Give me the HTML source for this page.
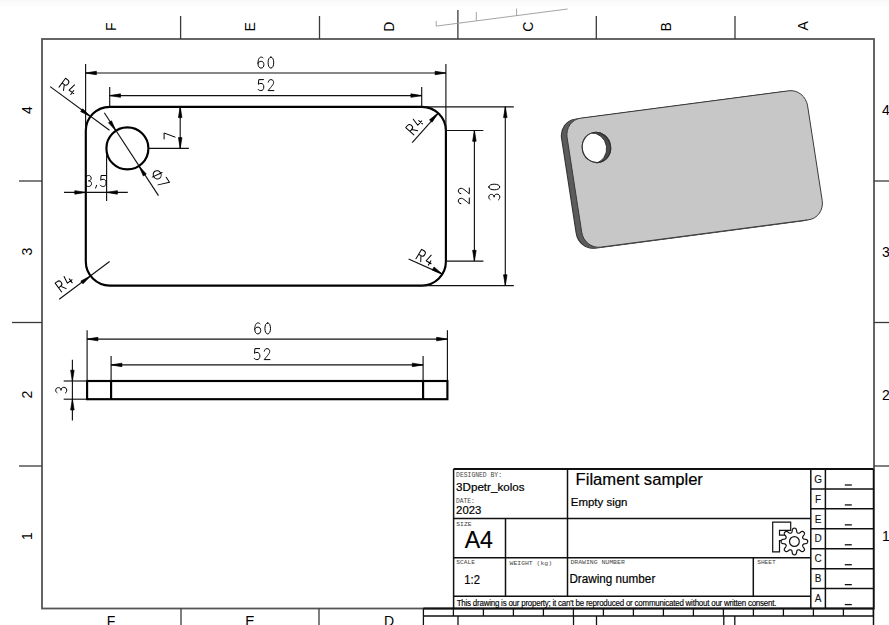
<!DOCTYPE html>
<html><head><meta charset="utf-8"><style>
html,body{margin:0;padding:0;background:#fff;}
svg{display:block;}
</style></head><body>
<svg width="889" height="625" viewBox="0 0 889 625">
<rect x="0" y="0" width="889" height="625" fill="#fff"/>
<rect x="0" y="0" width="889" height="2" fill="#f9f9f9"/><rect x="0" y="2" width="889" height="4" fill="#fcfcfc"/>
<rect x="42" y="39" width="832" height="569.5" fill="none" stroke="#555" stroke-width="1.8"/>
<line x1="180.60" y1="16.00" x2="180.60" y2="39.00" stroke="#3a3a3a" stroke-width="1.3"/>
<line x1="319.50" y1="16.00" x2="319.50" y2="39.00" stroke="#3a3a3a" stroke-width="1.3"/>
<line x1="596.30" y1="16.00" x2="596.30" y2="39.00" stroke="#3a3a3a" stroke-width="1.3"/>
<line x1="735.00" y1="16.00" x2="735.00" y2="39.00" stroke="#3a3a3a" stroke-width="1.3"/>
<line x1="457.90" y1="10.00" x2="457.90" y2="39.00" stroke="#3a3a3a" stroke-width="1.3"/>
<line x1="19.00" y1="181.00" x2="42.00" y2="181.00" stroke="#3a3a3a" stroke-width="1.3"/>
<line x1="874.00" y1="181.00" x2="889.00" y2="181.00" stroke="#3a3a3a" stroke-width="1.3"/>
<line x1="19.00" y1="466.00" x2="42.00" y2="466.00" stroke="#3a3a3a" stroke-width="1.3"/>
<line x1="874.00" y1="466.00" x2="889.00" y2="466.00" stroke="#3a3a3a" stroke-width="1.3"/>
<line x1="12.00" y1="322.50" x2="42.00" y2="322.50" stroke="#3a3a3a" stroke-width="1.3"/>
<line x1="874.00" y1="322.50" x2="889.00" y2="322.50" stroke="#3a3a3a" stroke-width="1.3"/>
<line x1="181.00" y1="608.50" x2="181.00" y2="625.00" stroke="#3a3a3a" stroke-width="1.3"/>
<line x1="319.00" y1="608.50" x2="319.00" y2="625.00" stroke="#3a3a3a" stroke-width="1.3"/>
<text transform="translate(111.00,26.80) rotate(-90)" x="0" y="5.0" text-anchor="middle" font-family="Liberation Sans" font-size="14" fill="#000">F</text>
<text transform="translate(250.00,26.80) rotate(-90)" x="0" y="5.0" text-anchor="middle" font-family="Liberation Sans" font-size="14" fill="#000">E</text>
<text transform="translate(389.00,26.80) rotate(-90)" x="0" y="5.0" text-anchor="middle" font-family="Liberation Sans" font-size="14" fill="#000">D</text>
<text transform="translate(528.00,26.80) rotate(-90)" x="0" y="5.0" text-anchor="middle" font-family="Liberation Sans" font-size="14" fill="#000">C</text>
<text transform="translate(666.00,26.80) rotate(-90)" x="0" y="5.0" text-anchor="middle" font-family="Liberation Sans" font-size="14" fill="#000">B</text>
<text transform="translate(803.20,25.80) rotate(-90)" x="0" y="5.0" text-anchor="middle" font-family="Liberation Sans" font-size="14" fill="#000">A</text>
<text transform="translate(111.00,620.50) rotate(0)" x="0" y="5.0" text-anchor="middle" font-family="Liberation Sans" font-size="14" fill="#000">F</text>
<text transform="translate(250.00,620.50) rotate(0)" x="0" y="5.0" text-anchor="middle" font-family="Liberation Sans" font-size="14" fill="#000">E</text>
<text transform="translate(389.00,620.50) rotate(0)" x="0" y="5.0" text-anchor="middle" font-family="Liberation Sans" font-size="14" fill="#000">D</text>
<text transform="translate(27.00,110.00) rotate(-90)" x="0" y="5.0" text-anchor="middle" font-family="Liberation Sans" font-size="14" fill="#000">4</text>
<text transform="translate(886.00,110.00) rotate(0)" x="0" y="5.0" text-anchor="middle" font-family="Liberation Sans" font-size="14" fill="#000">4</text>
<text transform="translate(27.00,251.50) rotate(-90)" x="0" y="5.0" text-anchor="middle" font-family="Liberation Sans" font-size="14" fill="#000">3</text>
<text transform="translate(886.00,251.50) rotate(0)" x="0" y="5.0" text-anchor="middle" font-family="Liberation Sans" font-size="14" fill="#000">3</text>
<text transform="translate(27.00,394.50) rotate(-90)" x="0" y="5.0" text-anchor="middle" font-family="Liberation Sans" font-size="14" fill="#000">2</text>
<text transform="translate(886.00,394.50) rotate(0)" x="0" y="5.0" text-anchor="middle" font-family="Liberation Sans" font-size="14" fill="#000">2</text>
<text transform="translate(27.00,536.00) rotate(-90)" x="0" y="5.0" text-anchor="middle" font-family="Liberation Sans" font-size="14" fill="#000">1</text>
<text transform="translate(886.00,536.00) rotate(0)" x="0" y="5.0" text-anchor="middle" font-family="Liberation Sans" font-size="14" fill="#000">1</text>
<g stroke="#9a9a9a" stroke-width="0.9" fill="none"><path d="M436.2,21 L436.2,26.1 L567.6,9"/><path d="M476.3,12 L476.3,20.8"/><path d="M516.6,8.5 L516.6,15.5"/></g>
<path d="M109.8,106.8 L421.9,106.8 A24,24 0 0 1 445.9,130.8 L445.9,261.6 A24,24 0 0 1 421.9,285.6 L109.8,285.6 A24,24 0 0 1 85.8,261.6 L85.8,130.8 A24,24 0 0 1 109.8,106.8 Z" fill="none" stroke="#000" stroke-width="2.15"/>
<circle cx="127.4" cy="148.4" r="21" fill="none" stroke="#000" stroke-width="2.15"/>
<line x1="85.60" y1="64.00" x2="85.60" y2="130.80" stroke="#111" stroke-width="1.15"/>
<line x1="445.90" y1="64.00" x2="445.90" y2="130.80" stroke="#111" stroke-width="1.15"/>
<line x1="85.60" y1="73.00" x2="445.90" y2="73.00" stroke="#111" stroke-width="1.15"/>
<path d="M85.60,73.00 L96.40,71.25 L96.40,74.75 Z" fill="#000" stroke="#000" stroke-width="0.7" stroke-linejoin="round"/>
<path d="M445.90,73.00 L435.10,74.75 L435.10,71.25 Z" fill="#000" stroke="#000" stroke-width="0.7" stroke-linejoin="round"/>
<g transform="translate(265.90,62.60) rotate(0.00) scale(1.0) translate(-8.00,-5.5)" fill="none" stroke="#000" stroke-width="1.000" stroke-linecap="round" stroke-linejoin="round"><path transform="translate(0.00,0)" d="M5.4,0.9 C4.9,0.3 4.1,0 3.3,0 C1.3,0 0.1,2.4 0.1,6.3 C0.1,9.3 1.3,11 3.1,11 C4.9,11 6,9.6 6,7.6 C6,5.5 4.9,4.2 3.2,4.2 C1.8,4.2 0.6,5 0.1,6.4"/><path transform="translate(10.00,0)" d="M3,0 C4.7,0 5.8,2.3 5.8,5.5 C5.8,8.7 4.7,11 3,11 C1.3,11 0.2,8.7 0.2,5.5 C0.2,2.3 1.3,0 3,0 Z"/></g>
<line x1="109.70" y1="87.00" x2="109.70" y2="106.80" stroke="#111" stroke-width="1.15"/>
<line x1="421.70" y1="87.00" x2="421.70" y2="106.80" stroke="#111" stroke-width="1.15"/>
<line x1="109.70" y1="95.60" x2="421.70" y2="95.60" stroke="#111" stroke-width="1.15"/>
<path d="M109.70,95.60 L120.50,93.85 L120.50,97.35 Z" fill="#000" stroke="#000" stroke-width="0.7" stroke-linejoin="round"/>
<path d="M421.70,95.60 L410.90,97.35 L410.90,93.85 Z" fill="#000" stroke="#000" stroke-width="0.7" stroke-linejoin="round"/>
<g transform="translate(265.90,85.10) rotate(0.00) scale(1.0) translate(-8.00,-5.5)" fill="none" stroke="#000" stroke-width="1.000" stroke-linecap="round" stroke-linejoin="round"><path transform="translate(0.00,0)" d="M5.6,0 L0.9,0 L0.5,4.7 C1.2,4.1 2.1,3.8 3.1,3.8 C4.8,3.8 5.9,5.2 5.9,7.4 C5.9,9.6 4.7,11 3,11 C1.8,11 0.8,10.6 0.1,9.7"/><path transform="translate(10.00,0)" d="M0.3,2.6 C0.6,0.9 1.7,0 3,0 C4.7,0 5.7,1.2 5.7,2.8 C5.7,4.6 4.3,6 0.2,11 L6,11"/></g>
<line x1="148.40" y1="148.40" x2="188.90" y2="148.40" stroke="#111" stroke-width="1.15"/>
<line x1="180.20" y1="106.80" x2="180.20" y2="148.40" stroke="#111" stroke-width="1.15"/>
<path d="M180.20,106.80 L181.95,117.60 L178.45,117.60 Z" fill="#000" stroke="#000" stroke-width="0.7" stroke-linejoin="round"/>
<path d="M180.20,148.40 L178.45,137.60 L181.95,137.60 Z" fill="#000" stroke="#000" stroke-width="0.7" stroke-linejoin="round"/>
<g transform="translate(169.60,136.00) rotate(-90.00) scale(1.0) translate(-3.00,-5.5)" fill="none" stroke="#000" stroke-width="1.000" stroke-linecap="round" stroke-linejoin="round"><path transform="translate(0.00,0)" d="M0,0 L6,0 L1.9,11"/></g>
<line x1="106.60" y1="153.40" x2="106.60" y2="201.00" stroke="#111" stroke-width="1.15"/>
<line x1="64.00" y1="192.40" x2="127.80" y2="192.40" stroke="#111" stroke-width="1.15"/>
<path d="M85.60,192.40 L74.80,194.15 L74.80,190.65 Z" fill="#000" stroke="#000" stroke-width="0.7" stroke-linejoin="round"/>
<path d="M106.60,192.40 L117.40,190.65 L117.40,194.15 Z" fill="#000" stroke="#000" stroke-width="0.7" stroke-linejoin="round"/>
<g transform="translate(95.90,181.00) rotate(0.00) scale(1.0) translate(-10.30,-5.5)" fill="none" stroke="#000" stroke-width="1.000" stroke-linecap="round" stroke-linejoin="round"><path transform="translate(0.00,0)" d="M0.4,1.3 C1,0.4 1.9,0 3,0 C4.6,0 5.6,1.1 5.6,2.7 C5.6,4.3 4.5,5.3 2.8,5.3 C4.7,5.3 5.9,6.5 5.9,8.1 C5.9,9.9 4.7,11 3,11 C1.8,11 0.8,10.6 0.1,9.7"/><path transform="translate(9.40,0)" d="M1.6,9.8 L0.6,12.6"/><path transform="translate(14.60,0)" d="M5.6,0 L0.9,0 L0.5,4.7 C1.2,4.1 2.1,3.8 3.1,3.8 C4.8,3.8 5.9,5.2 5.9,7.4 C5.9,9.6 4.7,11 3,11 C1.8,11 0.8,10.6 0.1,9.7"/></g>
<line x1="104.30" y1="112.70" x2="158.50" y2="195.60" stroke="#111" stroke-width="1.15"/>
<path d="M115.90,130.83 L108.52,122.75 L111.45,120.83 Z" fill="#000" stroke="#000" stroke-width="0.7" stroke-linejoin="round"/>
<path d="M138.90,165.97 L146.28,174.05 L143.35,175.97 Z" fill="#000" stroke="#000" stroke-width="0.7" stroke-linejoin="round"/>
<g transform="translate(160.50,178.60) rotate(56.80) scale(1.0) translate(-8.00,-5.5)" fill="none" stroke="#000" stroke-width="1.000" stroke-linecap="round" stroke-linejoin="round"><path transform="translate(0.00,0)" d="M3,2.3 C5.1,2.3 7.2,3.9 7.2,6.2 C7.2,8.5 5.1,10.1 3,10.1 C0.9,10.1 -1.2,8.5 -1.2,6.2 C-1.2,3.9 0.9,2.3 3,2.3 Z M2.2,11.6 L3.8,0.8"/><path transform="translate(10.00,0)" d="M0,0 L6,0 L1.9,11"/></g>
<line x1="50.20" y1="86.60" x2="109.50" y2="130.30" stroke="#111" stroke-width="1.15"/>
<path d="M90.38,116.56 L80.65,111.56 L82.72,108.75 Z" fill="#000" stroke="#000" stroke-width="0.7" stroke-linejoin="round"/>
<g transform="translate(68.40,87.20) rotate(36.39) scale(1.0) translate(-8.00,-5.5)" fill="none" stroke="#000" stroke-width="1.000" stroke-linecap="round" stroke-linejoin="round"><path transform="translate(0.00,0)" d="M0.4,11 L0.4,0 L3.1,0 C4.8,0 5.8,1.2 5.8,2.9 C5.8,4.6 4.8,5.8 3.1,5.8 L0.4,5.8 M3.1,5.8 L6,11"/><path transform="translate(10.00,0)" d="M1.6,0 L0.2,7.4 L6,7.4 M4.3,5.0 L4.3,10"/></g>
<line x1="412.20" y1="142.70" x2="438.54" y2="113.04" stroke="#111" stroke-width="1.15"/>
<path d="M438.04,113.04 L432.07,122.21 L429.48,119.86 Z" fill="#000" stroke="#000" stroke-width="0.7" stroke-linejoin="round"/>
<g transform="translate(414.90,125.60) rotate(-47.73) scale(1.0) translate(-8.00,-5.5)" fill="none" stroke="#000" stroke-width="1.000" stroke-linecap="round" stroke-linejoin="round"><path transform="translate(0.00,0)" d="M0.4,11 L0.4,0 L3.1,0 C4.8,0 5.8,1.2 5.8,2.9 C5.8,4.6 4.8,5.8 3.1,5.8 L0.4,5.8 M3.1,5.8 L6,11"/><path transform="translate(10.00,0)" d="M1.6,0 L0.2,7.4 L6,7.4 M4.3,5.0 L4.3,10"/></g>
<line x1="59.20" y1="299.20" x2="109.60" y2="261.50" stroke="#111" stroke-width="1.15"/>
<path d="M90.58,275.98 L82.98,283.85 L80.89,281.04 Z" fill="#000" stroke="#000" stroke-width="0.7" stroke-linejoin="round"/>
<g transform="translate(64.50,283.00) rotate(-36.80) scale(1.0) translate(-8.00,-5.5)" fill="none" stroke="#000" stroke-width="1.000" stroke-linecap="round" stroke-linejoin="round"><path transform="translate(0.00,0)" d="M0.4,11 L0.4,0 L3.1,0 C4.8,0 5.8,1.2 5.8,2.9 C5.8,4.6 4.8,5.8 3.1,5.8 L0.4,5.8 M3.1,5.8 L6,11"/><path transform="translate(10.00,0)" d="M1.6,0 L0.2,7.4 L6,7.4 M4.3,5.0 L4.3,10"/></g>
<line x1="408.60" y1="259.00" x2="442.37" y2="274.13" stroke="#111" stroke-width="1.15"/>
<path d="M442.37,274.13 L432.24,269.98 L434.07,267.00 Z" fill="#000" stroke="#000" stroke-width="0.7" stroke-linejoin="round"/>
<g transform="translate(425.30,258.00) rotate(31.48) scale(1.0) translate(-8.00,-5.5)" fill="none" stroke="#000" stroke-width="1.000" stroke-linecap="round" stroke-linejoin="round"><path transform="translate(0.00,0)" d="M0.4,11 L0.4,0 L3.1,0 C4.8,0 5.8,1.2 5.8,2.9 C5.8,4.6 4.8,5.8 3.1,5.8 L0.4,5.8 M3.1,5.8 L6,11"/><path transform="translate(10.00,0)" d="M1.6,0 L0.2,7.4 L6,7.4 M4.3,5.0 L4.3,10"/></g>
<line x1="445.90" y1="130.50" x2="483.40" y2="130.50" stroke="#111" stroke-width="1.15"/>
<line x1="445.90" y1="261.10" x2="483.40" y2="261.10" stroke="#111" stroke-width="1.15"/>
<line x1="474.40" y1="130.50" x2="474.40" y2="261.10" stroke="#111" stroke-width="1.15"/>
<path d="M474.40,130.50 L476.15,141.30 L472.65,141.30 Z" fill="#000" stroke="#000" stroke-width="0.7" stroke-linejoin="round"/>
<path d="M474.40,261.10 L472.65,250.30 L476.15,250.30 Z" fill="#000" stroke="#000" stroke-width="0.7" stroke-linejoin="round"/>
<g transform="translate(463.80,196.00) rotate(-90.00) scale(1.0) translate(-8.00,-5.5)" fill="none" stroke="#000" stroke-width="1.000" stroke-linecap="round" stroke-linejoin="round"><path transform="translate(0.00,0)" d="M0.3,2.6 C0.6,0.9 1.7,0 3,0 C4.7,0 5.7,1.2 5.7,2.8 C5.7,4.6 4.3,6 0.2,11 L6,11"/><path transform="translate(10.00,0)" d="M0.3,2.6 C0.6,0.9 1.7,0 3,0 C4.7,0 5.7,1.2 5.7,2.8 C5.7,4.6 4.3,6 0.2,11 L6,11"/></g>
<line x1="421.70" y1="106.80" x2="513.80" y2="106.80" stroke="#111" stroke-width="1.15"/>
<line x1="421.70" y1="285.60" x2="513.80" y2="285.60" stroke="#111" stroke-width="1.15"/>
<line x1="505.30" y1="106.80" x2="505.30" y2="285.60" stroke="#111" stroke-width="1.15"/>
<path d="M505.30,106.80 L507.05,117.60 L503.55,117.60 Z" fill="#000" stroke="#000" stroke-width="0.7" stroke-linejoin="round"/>
<path d="M505.30,285.60 L503.55,274.80 L507.05,274.80 Z" fill="#000" stroke="#000" stroke-width="0.7" stroke-linejoin="round"/>
<g transform="translate(494.30,192.00) rotate(-90.00) scale(1.0) translate(-8.00,-5.5)" fill="none" stroke="#000" stroke-width="1.000" stroke-linecap="round" stroke-linejoin="round"><path transform="translate(0.00,0)" d="M0.4,1.3 C1,0.4 1.9,0 3,0 C4.6,0 5.6,1.1 5.6,2.7 C5.6,4.3 4.5,5.3 2.8,5.3 C4.7,5.3 5.9,6.5 5.9,8.1 C5.9,9.9 4.7,11 3,11 C1.8,11 0.8,10.6 0.1,9.7"/><path transform="translate(10.00,0)" d="M3,0 C4.7,0 5.8,2.3 5.8,5.5 C5.8,8.7 4.7,11 3,11 C1.3,11 0.2,8.7 0.2,5.5 C0.2,2.3 1.3,0 3,0 Z"/></g>
<rect x="87.1" y="381.0" width="360.29999999999995" height="18.19999999999999" fill="none" stroke="#000" stroke-width="2.15"/>
<line x1="111.10" y1="381.00" x2="111.10" y2="399.20" stroke="#000" stroke-width="2.15"/>
<line x1="423.10" y1="381.00" x2="423.10" y2="399.20" stroke="#000" stroke-width="2.15"/>
<line x1="87.10" y1="330.20" x2="87.10" y2="381.00" stroke="#111" stroke-width="1.15"/>
<line x1="447.40" y1="330.20" x2="447.40" y2="381.00" stroke="#111" stroke-width="1.15"/>
<line x1="87.10" y1="339.10" x2="447.40" y2="339.10" stroke="#111" stroke-width="1.15"/>
<path d="M87.10,339.10 L97.90,337.35 L97.90,340.85 Z" fill="#000" stroke="#000" stroke-width="0.7" stroke-linejoin="round"/>
<path d="M447.40,339.10 L436.60,340.85 L436.60,337.35 Z" fill="#000" stroke="#000" stroke-width="0.7" stroke-linejoin="round"/>
<g transform="translate(262.70,328.40) rotate(0.00) scale(1.0) translate(-8.00,-5.5)" fill="none" stroke="#000" stroke-width="1.000" stroke-linecap="round" stroke-linejoin="round"><path transform="translate(0.00,0)" d="M5.4,0.9 C4.9,0.3 4.1,0 3.3,0 C1.3,0 0.1,2.4 0.1,6.3 C0.1,9.3 1.3,11 3.1,11 C4.9,11 6,9.6 6,7.6 C6,5.5 4.9,4.2 3.2,4.2 C1.8,4.2 0.6,5 0.1,6.4"/><path transform="translate(10.00,0)" d="M3,0 C4.7,0 5.8,2.3 5.8,5.5 C5.8,8.7 4.7,11 3,11 C1.3,11 0.2,8.7 0.2,5.5 C0.2,2.3 1.3,0 3,0 Z"/></g>
<line x1="111.10" y1="356.10" x2="111.10" y2="381.00" stroke="#111" stroke-width="1.15"/>
<line x1="423.10" y1="356.10" x2="423.10" y2="381.00" stroke="#111" stroke-width="1.15"/>
<line x1="111.10" y1="364.90" x2="423.10" y2="364.90" stroke="#111" stroke-width="1.15"/>
<path d="M111.10,364.90 L121.90,363.15 L121.90,366.65 Z" fill="#000" stroke="#000" stroke-width="0.7" stroke-linejoin="round"/>
<path d="M423.10,364.90 L412.30,366.65 L412.30,363.15 Z" fill="#000" stroke="#000" stroke-width="0.7" stroke-linejoin="round"/>
<g transform="translate(262.00,354.10) rotate(0.00) scale(1.0) translate(-8.00,-5.5)" fill="none" stroke="#000" stroke-width="1.000" stroke-linecap="round" stroke-linejoin="round"><path transform="translate(0.00,0)" d="M5.6,0 L0.9,0 L0.5,4.7 C1.2,4.1 2.1,3.8 3.1,3.8 C4.8,3.8 5.9,5.2 5.9,7.4 C5.9,9.6 4.7,11 3,11 C1.8,11 0.8,10.6 0.1,9.7"/><path transform="translate(10.00,0)" d="M0.3,2.6 C0.6,0.9 1.7,0 3,0 C4.7,0 5.7,1.2 5.7,2.8 C5.7,4.6 4.3,6 0.2,11 L6,11"/></g>
<line x1="63.70" y1="381.00" x2="87.10" y2="381.00" stroke="#111" stroke-width="1.15"/>
<line x1="63.70" y1="399.20" x2="87.10" y2="399.20" stroke="#111" stroke-width="1.15"/>
<line x1="72.40" y1="359.70" x2="72.40" y2="420.60" stroke="#111" stroke-width="1.15"/>
<path d="M72.40,381.00 L70.65,370.20 L74.15,370.20 Z" fill="#000" stroke="#000" stroke-width="0.7" stroke-linejoin="round"/>
<path d="M72.40,399.20 L74.15,410.00 L70.65,410.00 Z" fill="#000" stroke="#000" stroke-width="0.7" stroke-linejoin="round"/>
<g transform="translate(61.20,390.20) rotate(-90.00) scale(1.0) translate(-3.00,-5.5)" fill="none" stroke="#000" stroke-width="1.000" stroke-linecap="round" stroke-linejoin="round"><path transform="translate(0.00,0)" d="M0.4,1.3 C1,0.4 1.9,0 3,0 C4.6,0 5.6,1.1 5.6,2.7 C5.6,4.3 4.5,5.3 2.8,5.3 C4.7,5.3 5.9,6.5 5.9,8.1 C5.9,9.9 4.7,11 3,11 C1.8,11 0.8,10.6 0.1,9.7"/></g>
<g transform="translate(-5.5,1.0) matrix(4.0083 -0.5275 0.6633 4.2983 564.45 120.325)"><rect x="0" y="0" width="60" height="30" rx="4" ry="4" fill="#5c5c5c" stroke="#333" stroke-width="1.1" vector-effect="non-scaling-stroke"/></g>
<g transform="translate(-4.4,0.8) matrix(4.0083 -0.5275 0.6633 4.2983 564.45 120.325)"><rect x="0" y="0" width="60" height="30" rx="4" ry="4" fill="#5c5c5c" stroke="none" stroke-width="0" vector-effect="non-scaling-stroke"/></g>
<g transform="translate(-3.3,0.6) matrix(4.0083 -0.5275 0.6633 4.2983 564.45 120.325)"><rect x="0" y="0" width="60" height="30" rx="4" ry="4" fill="#5c5c5c" stroke="none" stroke-width="0" vector-effect="non-scaling-stroke"/></g>
<g transform="translate(-2.2,0.4) matrix(4.0083 -0.5275 0.6633 4.2983 564.45 120.325)"><rect x="0" y="0" width="60" height="30" rx="4" ry="4" fill="#5c5c5c" stroke="none" stroke-width="0" vector-effect="non-scaling-stroke"/></g>
<g transform="translate(-1.1,0.2) matrix(4.0083 -0.5275 0.6633 4.2983 564.45 120.325)"><rect x="0" y="0" width="60" height="30" rx="4" ry="4" fill="#5c5c5c" stroke="none" stroke-width="0" vector-effect="non-scaling-stroke"/></g>
<g transform="translate(0,0) matrix(4.0083 -0.5275 0.6633 4.2983 564.45 120.325)"><rect x="0" y="0" width="60" height="30" rx="4" ry="4" fill="#c7c7c7" stroke="#3a3a3a" stroke-width="1.0" vector-effect="non-scaling-stroke"/></g>
<defs><clipPath id="hc"><ellipse transform="matrix(4.0083 -0.5275 0.6633 4.2983 564.45 120.325)" cx="6.8" cy="7.15" rx="3.5" ry="3.5"/></clipPath></defs>
<g transform="matrix(4.0083 -0.5275 0.6633 4.2983 564.45 120.325)"><ellipse cx="6.8" cy="7.15" rx="3.5" ry="3.5" fill="#4a4a4a" stroke="#333" stroke-width="1.1" vector-effect="non-scaling-stroke"/></g>
<g clip-path="url(#hc)"><g transform="translate(-4.0,0.6) matrix(4.0083 -0.5275 0.6633 4.2983 564.45 120.325)"><ellipse cx="6.8" cy="7.15" rx="3.5" ry="3.5" fill="#fff" stroke="#333" stroke-width="1" vector-effect="non-scaling-stroke"/></g></g>
<g transform="matrix(4.0083 -0.5275 0.6633 4.2983 564.45 120.325)"><ellipse cx="6.8" cy="7.15" rx="3.5" ry="3.5" fill="none" stroke="#333" stroke-width="1.1" vector-effect="non-scaling-stroke"/></g>
<line x1="453.60" y1="469.00" x2="873.50" y2="469.00" stroke="#111" stroke-width="1.8"/>
<line x1="453.60" y1="469.00" x2="453.60" y2="608.50" stroke="#111" stroke-width="1.5"/>
<line x1="567.50" y1="469.00" x2="567.50" y2="596.20" stroke="#111" stroke-width="1.5"/>
<line x1="453.60" y1="518.60" x2="810.80" y2="518.60" stroke="#111" stroke-width="1.5"/>
<line x1="505.50" y1="518.60" x2="505.50" y2="596.20" stroke="#111" stroke-width="1.5"/>
<line x1="453.60" y1="557.80" x2="810.80" y2="557.80" stroke="#111" stroke-width="1.5"/>
<line x1="753.30" y1="557.80" x2="753.30" y2="596.20" stroke="#111" stroke-width="1.5"/>
<line x1="453.60" y1="596.20" x2="810.80" y2="596.20" stroke="#111" stroke-width="1.5"/>
<line x1="810.80" y1="469.00" x2="810.80" y2="608.50" stroke="#111" stroke-width="1.5"/>
<line x1="825.40" y1="469.00" x2="825.40" y2="608.50" stroke="#111" stroke-width="1.5"/>
<line x1="873.50" y1="469.00" x2="873.50" y2="625.00" stroke="#111" stroke-width="1.5"/>
<line x1="810.80" y1="488.93" x2="873.50" y2="488.93" stroke="#111" stroke-width="1.5"/>
<line x1="810.80" y1="508.86" x2="873.50" y2="508.86" stroke="#111" stroke-width="1.5"/>
<line x1="810.80" y1="528.79" x2="873.50" y2="528.79" stroke="#111" stroke-width="1.5"/>
<line x1="810.80" y1="548.72" x2="873.50" y2="548.72" stroke="#111" stroke-width="1.5"/>
<line x1="810.80" y1="568.65" x2="873.50" y2="568.65" stroke="#111" stroke-width="1.5"/>
<line x1="810.80" y1="588.58" x2="873.50" y2="588.58" stroke="#111" stroke-width="1.5"/>
<text x="818.1" y="482.70" text-anchor="middle" font-family="Liberation Sans" font-size="10" fill="#111" stroke="#111" stroke-width="0.1">G</text>
<line x1="844.80" y1="485.00" x2="851.80" y2="485.00" stroke="#111" stroke-width="1.3"/>
<text x="818.1" y="502.63" text-anchor="middle" font-family="Liberation Sans" font-size="10" fill="#111" stroke="#111" stroke-width="0.1">F</text>
<line x1="844.80" y1="504.93" x2="851.80" y2="504.93" stroke="#111" stroke-width="1.3"/>
<text x="818.1" y="522.56" text-anchor="middle" font-family="Liberation Sans" font-size="10" fill="#111" stroke="#111" stroke-width="0.1">E</text>
<line x1="844.80" y1="524.86" x2="851.80" y2="524.86" stroke="#111" stroke-width="1.3"/>
<text x="818.1" y="542.49" text-anchor="middle" font-family="Liberation Sans" font-size="10" fill="#111" stroke="#111" stroke-width="0.1">D</text>
<line x1="844.80" y1="544.79" x2="851.80" y2="544.79" stroke="#111" stroke-width="1.3"/>
<text x="818.1" y="562.42" text-anchor="middle" font-family="Liberation Sans" font-size="10" fill="#111" stroke="#111" stroke-width="0.1">C</text>
<line x1="844.80" y1="564.72" x2="851.80" y2="564.72" stroke="#111" stroke-width="1.3"/>
<text x="818.1" y="582.35" text-anchor="middle" font-family="Liberation Sans" font-size="10" fill="#111" stroke="#111" stroke-width="0.1">B</text>
<line x1="844.80" y1="584.65" x2="851.80" y2="584.65" stroke="#111" stroke-width="1.3"/>
<text x="818.1" y="602.28" text-anchor="middle" font-family="Liberation Sans" font-size="10" fill="#111" stroke="#111" stroke-width="0.1">A</text>
<line x1="844.80" y1="604.58" x2="851.80" y2="604.58" stroke="#111" stroke-width="1.3"/>
<line x1="423.40" y1="608.50" x2="873.50" y2="608.50" stroke="#111" stroke-width="1.8"/>
<line x1="423.40" y1="616.10" x2="873.50" y2="616.10" stroke="#111" stroke-width="1.5"/>
<line x1="423.40" y1="608.50" x2="423.40" y2="616.10" stroke="#111" stroke-width="1.3"/>
<line x1="453.40" y1="608.50" x2="453.40" y2="616.10" stroke="#111" stroke-width="1.3"/>
<line x1="483.40" y1="608.50" x2="483.40" y2="616.10" stroke="#111" stroke-width="1.3"/>
<line x1="513.40" y1="608.50" x2="513.40" y2="616.10" stroke="#111" stroke-width="1.3"/>
<line x1="543.40" y1="608.50" x2="543.40" y2="616.10" stroke="#111" stroke-width="1.3"/>
<line x1="573.40" y1="608.50" x2="573.40" y2="616.10" stroke="#111" stroke-width="1.3"/>
<line x1="603.40" y1="608.50" x2="603.40" y2="616.10" stroke="#111" stroke-width="1.3"/>
<line x1="633.40" y1="608.50" x2="633.40" y2="616.10" stroke="#111" stroke-width="1.3"/>
<line x1="663.40" y1="608.50" x2="663.40" y2="616.10" stroke="#111" stroke-width="1.3"/>
<line x1="693.40" y1="608.50" x2="693.40" y2="616.10" stroke="#111" stroke-width="1.3"/>
<line x1="723.40" y1="608.50" x2="723.40" y2="616.10" stroke="#111" stroke-width="1.3"/>
<line x1="753.40" y1="608.50" x2="753.40" y2="616.10" stroke="#111" stroke-width="1.3"/>
<line x1="783.40" y1="608.50" x2="783.40" y2="616.10" stroke="#111" stroke-width="1.3"/>
<line x1="813.40" y1="608.50" x2="813.40" y2="616.10" stroke="#111" stroke-width="1.3"/>
<line x1="843.40" y1="608.50" x2="843.40" y2="616.10" stroke="#111" stroke-width="1.3"/>
<line x1="873.40" y1="608.50" x2="873.40" y2="616.10" stroke="#111" stroke-width="1.3"/>
<line x1="423.40" y1="616.10" x2="423.40" y2="625.00" stroke="#111" stroke-width="1.3"/>
<line x1="458.00" y1="616.10" x2="458.00" y2="625.00" stroke="#111" stroke-width="1.3"/>
<line x1="573.50" y1="616.10" x2="573.50" y2="625.00" stroke="#111" stroke-width="1.3"/>
<line x1="596.50" y1="616.10" x2="596.50" y2="625.00" stroke="#111" stroke-width="1.3"/>
<line x1="723.80" y1="616.10" x2="723.80" y2="625.00" stroke="#111" stroke-width="1.3"/>
<line x1="734.80" y1="616.10" x2="734.80" y2="625.00" stroke="#111" stroke-width="1.3"/>
<text x="456.1" y="477.4" font-family="Liberation Mono" font-size="6.3" fill="#444" textLength="45.9" lengthAdjust="spacingAndGlyphs" >DESIGNED BY:</text>
<text x="456.1" y="490.6" font-family="Liberation Sans" font-size="11.3" fill="#000" stroke="#000" stroke-width="0.2" textLength="68.4" lengthAdjust="spacingAndGlyphs" >3Dpetr_kolos</text>
<text x="456.1" y="503.1" font-family="Liberation Mono" font-size="6.3" fill="#444" textLength="18.8" lengthAdjust="spacingAndGlyphs" >DATE:</text>
<text x="456.1" y="514.3" font-family="Liberation Sans" font-size="11.3" fill="#000" stroke="#000" stroke-width="0.2" textLength="25.2" lengthAdjust="spacingAndGlyphs" >2023</text>
<text x="456.3" y="525.6" font-family="Liberation Mono" font-size="6.0" fill="#444" textLength="15.2" lengthAdjust="spacingAndGlyphs" >SIZE</text>
<text x="464.7" y="547.7" font-family="Liberation Sans" font-size="24.7" fill="#000" stroke="#000" stroke-width="0.2" textLength="28.2" lengthAdjust="spacingAndGlyphs" >A4</text>
<text x="456.3" y="564.3" font-family="Liberation Mono" font-size="6.0" fill="#444" textLength="18.7" lengthAdjust="spacingAndGlyphs" >SCALE</text>
<text x="464.3" y="583.7" font-family="Liberation Sans" font-size="12.3" fill="#000" stroke="#000" stroke-width="0.2" textLength="15.6" lengthAdjust="spacingAndGlyphs" >1:2</text>
<text x="509.6" y="564.6" font-family="Liberation Mono" font-size="6.0" fill="#444" textLength="42.4" lengthAdjust="spacingAndGlyphs" >WEIGHT (kg)</text>
<text x="575.6" y="484.5" font-family="Liberation Sans" font-size="16.0" fill="#000" stroke="#000" stroke-width="0.2" textLength="127.3" lengthAdjust="spacingAndGlyphs" >Filament sampler</text>
<text x="570.8" y="506.0" font-family="Liberation Sans" font-size="10.8" fill="#000" stroke="#000" stroke-width="0.2" textLength="56.7" lengthAdjust="spacingAndGlyphs" >Empty sign</text>
<text x="570.4" y="564.1" font-family="Liberation Mono" font-size="6.0" fill="#444" textLength="54.4" lengthAdjust="spacingAndGlyphs" >DRAWING NUMBER</text>
<text x="569.4" y="583.4" font-family="Liberation Sans" font-size="12.5" fill="#000" stroke="#000" stroke-width="0.2" textLength="85.9" lengthAdjust="spacingAndGlyphs" >Drawing number</text>
<text x="757.2" y="564.1" font-family="Liberation Mono" font-size="6.0" fill="#444" textLength="18.6" lengthAdjust="spacingAndGlyphs" >SHEET</text>
<text x="456.7" y="605.7" font-family="Liberation Sans" font-size="8.8" fill="#000" stroke="#000" stroke-width="0.15" textLength="319.5" lengthAdjust="spacingAndGlyphs" letter-spacing="-0.25">This drawing is our property; it can&#39;t be reproduced or communicated without our written consent.</text>
<path d="M772.7,522.1 L790.7,522.1 L790.7,530.4 L779.5,530.4 L779.5,535.2 L787,535.2 L787,540.5 L779.5,540.5 L779.5,551.8 L772.7,551.8 Z" fill="#fff" stroke="#111" stroke-width="1.2"/>
<path d="M807.70,541.50 L807.69,541.73 L807.67,541.96 L807.63,542.19 L807.56,542.42 L807.47,542.64 L807.33,542.86 L807.13,543.06 L806.86,543.25 L806.49,543.42 L806.04,543.55 L805.52,543.66 L804.99,543.75 L804.49,543.83 L804.08,543.91 L803.76,544.01 L803.51,544.11 L803.33,544.23 L803.19,544.36 L803.08,544.49 L802.99,544.62 L802.91,544.77 L802.84,544.91 L802.78,545.06 L802.72,545.21 L802.68,545.36 L802.65,545.52 L802.63,545.69 L802.64,545.88 L802.69,546.10 L802.79,546.34 L802.95,546.64 L803.19,546.99 L803.48,547.39 L803.79,547.83 L804.08,548.28 L804.30,548.70 L804.45,549.07 L804.51,549.40 L804.50,549.68 L804.45,549.93 L804.36,550.16 L804.24,550.36 L804.11,550.56 L803.96,550.74 L803.80,550.90 L803.64,551.06 L803.46,551.21 L803.26,551.34 L803.06,551.46 L802.83,551.55 L802.58,551.60 L802.30,551.61 L801.97,551.55 L801.60,551.40 L801.18,551.18 L800.73,550.89 L800.29,550.58 L799.89,550.29 L799.54,550.05 L799.24,549.89 L799.00,549.79 L798.78,549.74 L798.59,549.73 L798.42,549.75 L798.26,549.78 L798.11,549.82 L797.96,549.88 L797.81,549.94 L797.67,550.01 L797.52,550.09 L797.39,550.18 L797.26,550.29 L797.13,550.43 L797.01,550.61 L796.91,550.86 L796.81,551.18 L796.73,551.59 L796.65,552.09 L796.56,552.62 L796.45,553.14 L796.32,553.59 L796.15,553.96 L795.96,554.23 L795.76,554.43 L795.54,554.57 L795.32,554.66 L795.09,554.73 L794.86,554.77 L794.63,554.79 L794.40,554.80 L794.17,554.79 L793.94,554.77 L793.71,554.73 L793.48,554.66 L793.26,554.57 L793.04,554.43 L792.84,554.23 L792.65,553.96 L792.48,553.59 L792.35,553.14 L792.24,552.62 L792.15,552.09 L792.07,551.59 L791.99,551.18 L791.89,550.86 L791.79,550.61 L791.67,550.43 L791.54,550.29 L791.41,550.18 L791.28,550.09 L791.13,550.01 L790.99,549.94 L790.84,549.88 L790.69,549.82 L790.54,549.78 L790.38,549.75 L790.21,549.73 L790.02,549.74 L789.80,549.79 L789.56,549.89 L789.26,550.05 L788.91,550.29 L788.51,550.58 L788.07,550.89 L787.62,551.18 L787.20,551.40 L786.83,551.55 L786.50,551.61 L786.22,551.60 L785.97,551.55 L785.74,551.46 L785.54,551.34 L785.34,551.21 L785.16,551.06 L785.00,550.90 L784.84,550.74 L784.69,550.56 L784.56,550.36 L784.44,550.16 L784.35,549.93 L784.30,549.68 L784.29,549.40 L784.35,549.07 L784.50,548.70 L784.72,548.28 L785.01,547.83 L785.32,547.39 L785.61,546.99 L785.85,546.64 L786.01,546.34 L786.11,546.10 L786.16,545.88 L786.17,545.69 L786.15,545.52 L786.12,545.36 L786.08,545.21 L786.02,545.06 L785.96,544.91 L785.89,544.77 L785.81,544.62 L785.72,544.49 L785.61,544.36 L785.47,544.23 L785.29,544.11 L785.04,544.01 L784.72,543.91 L784.31,543.83 L783.81,543.75 L783.28,543.66 L782.76,543.55 L782.31,543.42 L781.94,543.25 L781.67,543.06 L781.47,542.86 L781.33,542.64 L781.24,542.42 L781.17,542.19 L781.13,541.96 L781.11,541.73 L781.10,541.50 L781.11,541.27 L781.13,541.04 L781.17,540.81 L781.24,540.58 L781.33,540.36 L781.47,540.14 L781.67,539.94 L781.94,539.75 L782.31,539.58 L782.76,539.45 L783.28,539.34 L783.81,539.25 L784.31,539.17 L784.72,539.09 L785.04,538.99 L785.29,538.89 L785.47,538.77 L785.61,538.64 L785.72,538.51 L785.81,538.38 L785.89,538.23 L785.96,538.09 L786.02,537.94 L786.08,537.79 L786.12,537.64 L786.15,537.48 L786.17,537.31 L786.16,537.12 L786.11,536.90 L786.01,536.66 L785.85,536.36 L785.61,536.01 L785.32,535.61 L785.01,535.17 L784.72,534.72 L784.50,534.30 L784.35,533.93 L784.29,533.60 L784.30,533.32 L784.35,533.07 L784.44,532.84 L784.56,532.64 L784.69,532.44 L784.84,532.26 L785.00,532.10 L785.16,531.94 L785.34,531.79 L785.54,531.66 L785.74,531.54 L785.97,531.45 L786.22,531.40 L786.50,531.39 L786.83,531.45 L787.20,531.60 L787.62,531.82 L788.07,532.11 L788.51,532.42 L788.91,532.71 L789.26,532.95 L789.56,533.11 L789.80,533.21 L790.02,533.26 L790.21,533.27 L790.38,533.25 L790.54,533.22 L790.69,533.18 L790.84,533.12 L790.99,533.06 L791.13,532.99 L791.28,532.91 L791.41,532.82 L791.54,532.71 L791.67,532.57 L791.79,532.39 L791.89,532.14 L791.99,531.82 L792.07,531.41 L792.15,530.91 L792.24,530.38 L792.35,529.86 L792.48,529.41 L792.65,529.04 L792.84,528.77 L793.04,528.57 L793.26,528.43 L793.48,528.34 L793.71,528.27 L793.94,528.23 L794.17,528.21 L794.40,528.20 L794.63,528.21 L794.86,528.23 L795.09,528.27 L795.32,528.34 L795.54,528.43 L795.76,528.57 L795.96,528.77 L796.15,529.04 L796.32,529.41 L796.45,529.86 L796.56,530.38 L796.65,530.91 L796.73,531.41 L796.81,531.82 L796.91,532.14 L797.01,532.39 L797.13,532.57 L797.26,532.71 L797.39,532.82 L797.52,532.91 L797.67,532.99 L797.81,533.06 L797.96,533.12 L798.11,533.18 L798.26,533.22 L798.42,533.25 L798.59,533.27 L798.78,533.26 L799.00,533.21 L799.24,533.11 L799.54,532.95 L799.89,532.71 L800.29,532.42 L800.73,532.11 L801.18,531.82 L801.60,531.60 L801.97,531.45 L802.30,531.39 L802.58,531.40 L802.83,531.45 L803.06,531.54 L803.26,531.66 L803.46,531.79 L803.64,531.94 L803.80,532.10 L803.96,532.26 L804.11,532.44 L804.24,532.64 L804.36,532.84 L804.45,533.07 L804.50,533.32 L804.51,533.60 L804.45,533.93 L804.30,534.30 L804.08,534.72 L803.79,535.17 L803.48,535.61 L803.19,536.01 L802.95,536.36 L802.79,536.66 L802.69,536.90 L802.64,537.12 L802.63,537.31 L802.65,537.48 L802.68,537.64 L802.72,537.79 L802.78,537.94 L802.84,538.09 L802.91,538.23 L802.99,538.38 L803.08,538.51 L803.19,538.64 L803.33,538.77 L803.51,538.89 L803.76,538.99 L804.08,539.09 L804.49,539.17 L804.99,539.25 L805.52,539.34 L806.04,539.45 L806.49,539.58 L806.86,539.75 L807.13,539.94 L807.33,540.14 L807.47,540.36 L807.56,540.58 L807.63,540.81 L807.67,541.04 L807.69,541.27 Z" fill="#fff" stroke="#111" stroke-width="1.2" stroke-linejoin="round"/>
<circle cx="794.4" cy="541.5" r="4.9" fill="none" stroke="#111" stroke-width="1.2"/>
</svg></body></html>
